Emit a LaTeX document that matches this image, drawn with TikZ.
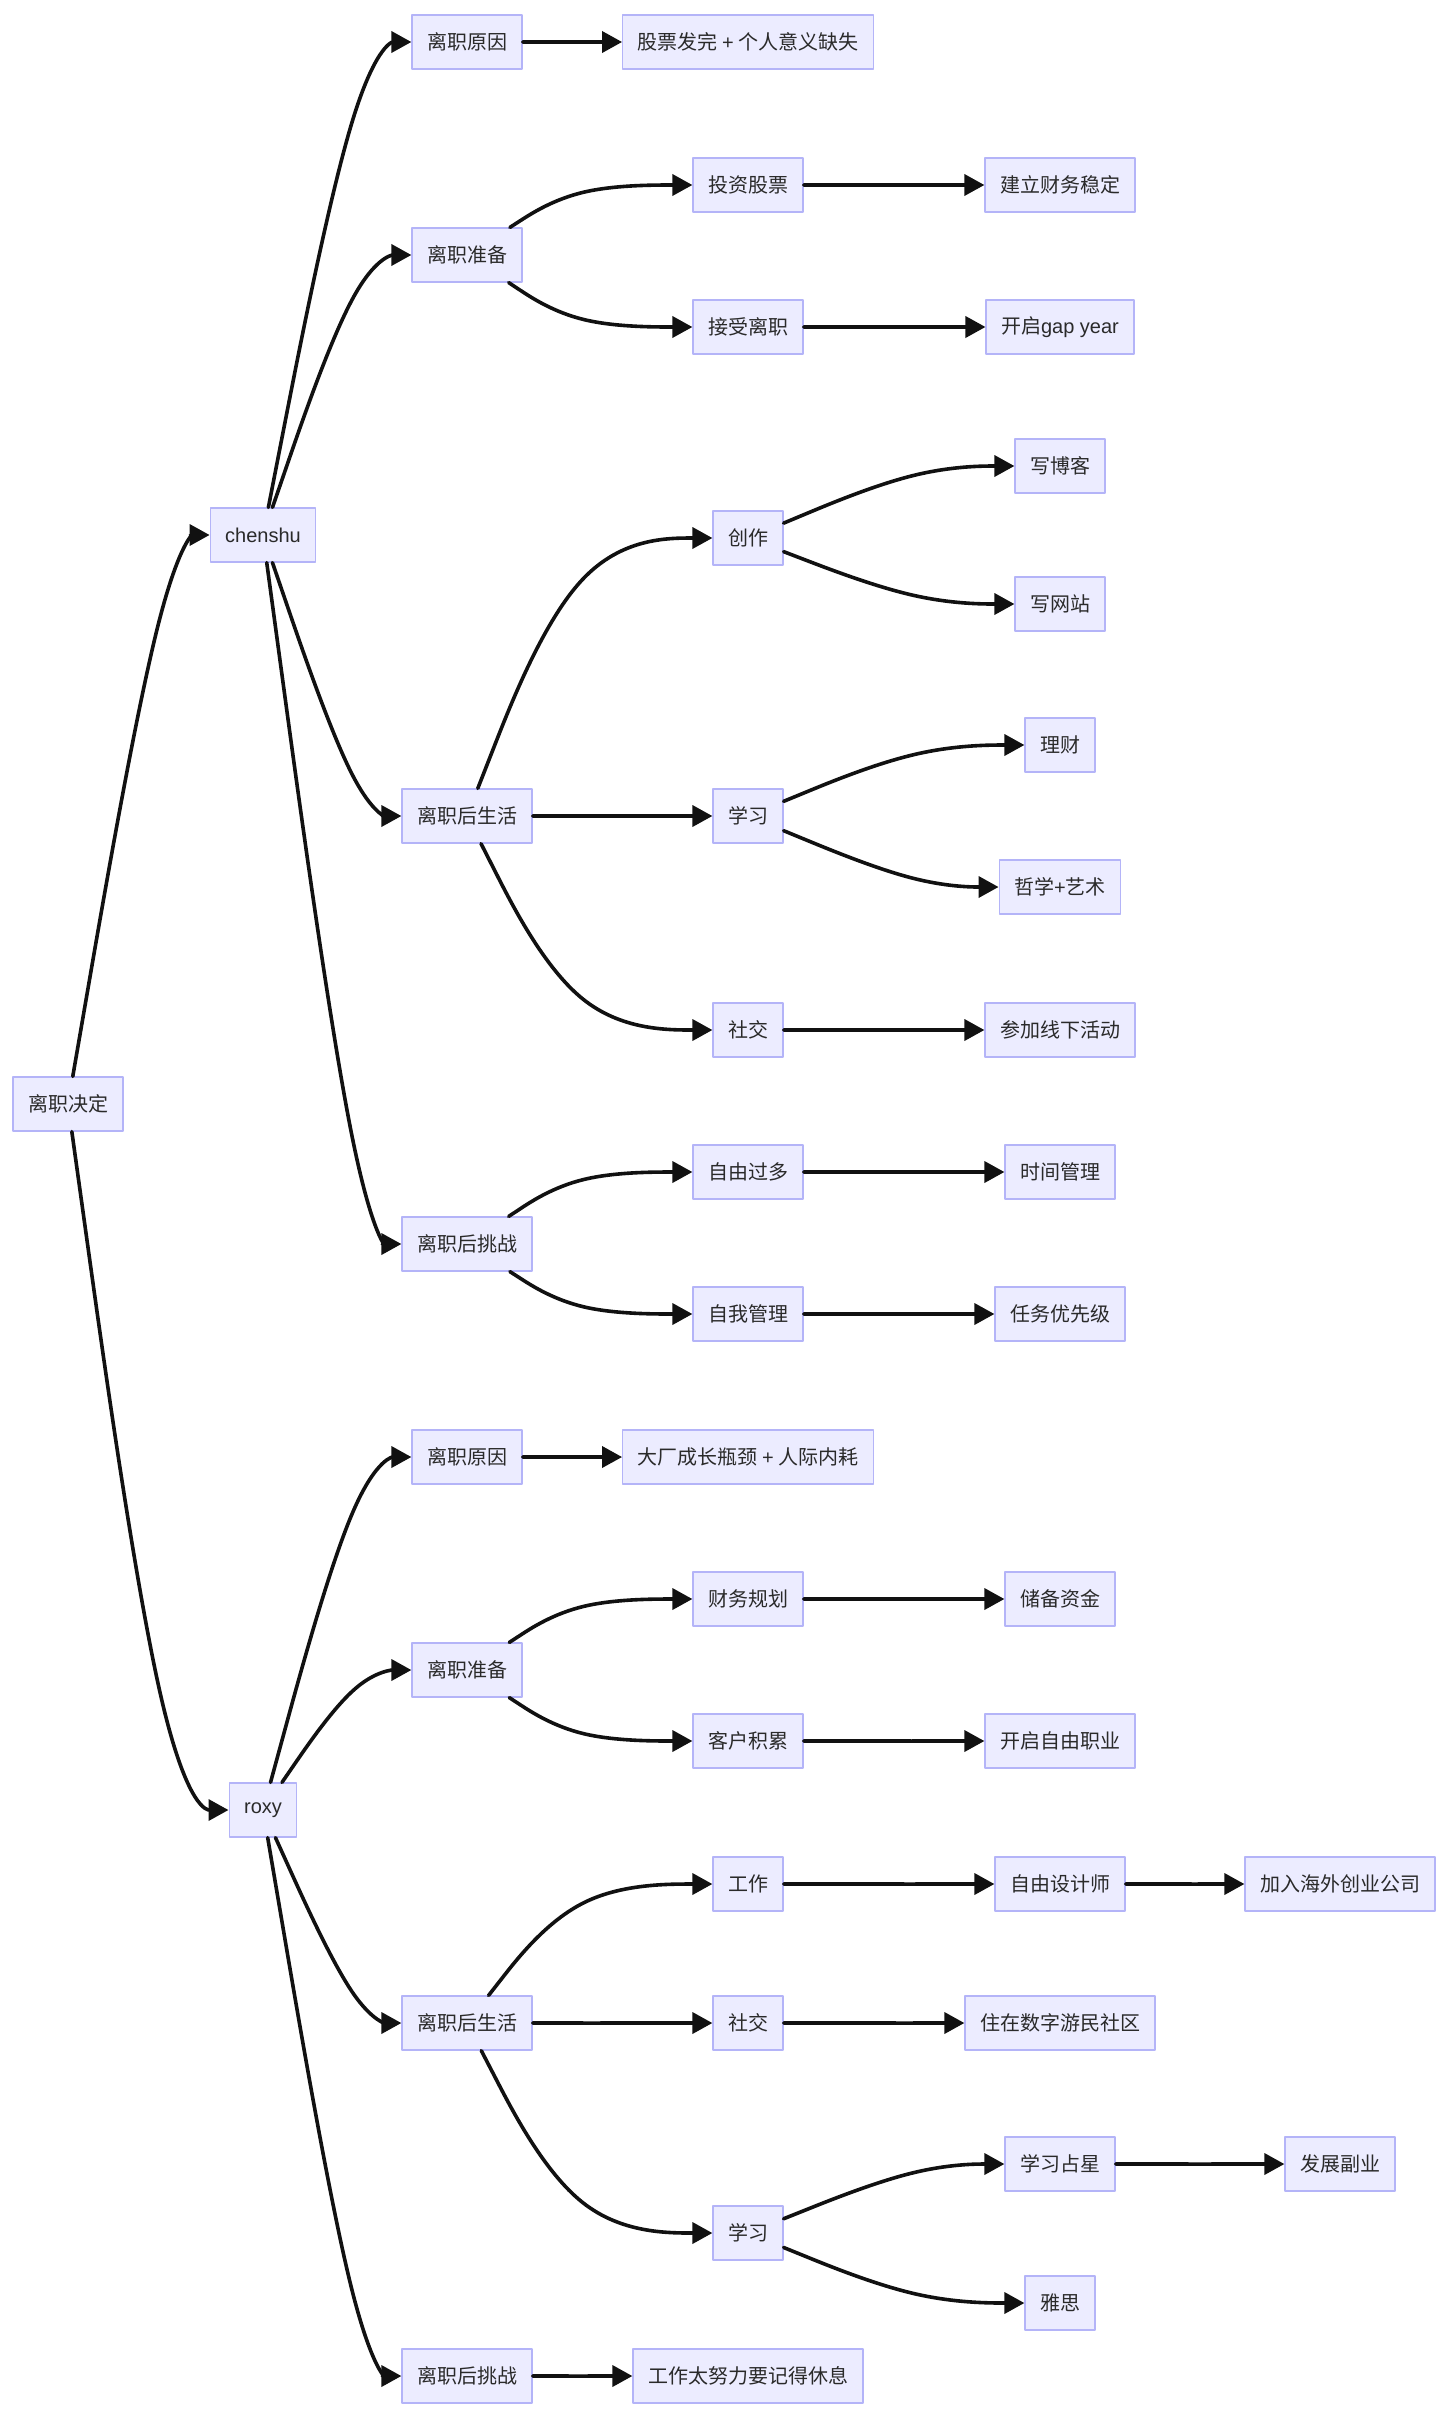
\documentclass[tikz,border=0pt]{standalone}
\usepackage{fontspec}
\setmainfont{Noto Sans CJK SC}
\newfontfamily\latin{Liberation Sans}
\usetikzlibrary{arrows.meta,calc}

\definecolor{boxfill}{HTML}{ECECFF}
\definecolor{boxline}{HTML}{B4B4F8}
\definecolor{inkgray}{HTML}{2A2A2A}
\definecolor{linkgray}{HTML}{111111}

\tikzset{
  box/.style={draw=boxline, fill=boxfill, line width=0.6pt, text=inkgray,
    minimum height=27pt, inner xsep=7.5pt, inner ysep=0pt},
  link/.style={draw=linkgray, line width=1.8pt, -{Triangle[length=10pt,width=10.5pt]}}
}

% basis curve from #1 to #2, bending at the column #3
\newcommand{\flow}[3]{%
  \path (#2.west -| #3) coordinate (q1) (#2.west) coordinate (q2);
  \path (#1) -- (q1) coordinate[pos=0] (q0);
  \draw[link] (q0) -- ($(q0)!0.16667!(q1)$)
    .. controls ($(q0)!0.33333!(q1)$) and ($(q0)!0.66667!(q1)$)
    .. ($0.16667*(q0)+0.66667*(q1)+0.16667*(q2)$)
    .. controls ($(q1)!0.33333!(q2)$) and ($(q1)!0.66667!(q2)$) .. (q2);
}

\begin{document}
\begin{tikzpicture}[x=0.5pt, y=-0.5pt, line join=round, line cap=round]
				\useasboundingbox (0,0) rectangle (1456,2426);
				
				\coordinate (m1) at (166.5,0);
				\coordinate (m2) at (359.3,0);
				\coordinate (m3) at (575.8,0);
				\coordinate (m4) at (920.3,0);
				\coordinate (m5) at (1199.8,0);
				
				\node[box] (D) at (68,1104) {离职决定};
				\node[box] (C) at (263,535) {\latin chenshu};
				\node[box] (R) at (263,1810) {\latin roxy};
				
				% chenshu
				\node[box] (C1) at (467,42) {离职原因};
				\node[box] (C2) at (467,255) {离职准备};
				\node[box] (C3) at (467,816) {离职后生活};
				\node[box] (C4) at (467,1244) {离职后挑战};
				
				\node[box] (C11) at (748,42) {股票发完 {\latin +} 个人意义缺失};
				\node[box] (C21) at (748,185) {投资股票};
				\node[box] (C22) at (748,327) {接受离职};
				\node[box] (C31) at (748,538) {创作};
				\node[box] (C32) at (748,816) {学习};
				\node[box] (C33) at (748,1030) {社交};
				\node[box] (C41) at (748,1172) {自由过多};
				\node[box] (C42) at (748,1314) {自我管理};
				
				\node[box] (C211) at (1060,185) {建立财务稳定};
				\node[box] (C221) at (1060,327) {开启{\latin gap year}};
				\node[box] (C311) at (1060,466) {写博客};
				\node[box] (C312) at (1060,604) {写网站};
				\node[box] (C321) at (1060,745) {理财};
				\node[box] (C322) at (1060,887) {哲学{\latin +}艺术};
				\node[box] (C331) at (1060,1030) {参加线下活动};
				\node[box] (C411) at (1060,1172) {时间管理};
				\node[box] (C421) at (1060,1314) {任务优先级};
				
				% roxy
				\node[box] (R1) at (467,1457) {离职原因};
				\node[box] (R2) at (467,1670) {离职准备};
				\node[box] (R3) at (467,2023) {离职后生活};
				\node[box] (R4) at (467,2376) {离职后挑战};
				
				\node[box] (R11) at (748,1457) {大厂成长瓶颈 {\latin +} 人际内耗};
				\node[box] (R21) at (748,1599) {财务规划};
				\node[box] (R22) at (748,1741) {客户积累};
				\node[box] (R31) at (748,1884) {工作};
				\node[box] (R32) at (748,2023) {社交};
				\node[box] (R33) at (748,2233) {学习};
				\node[box] (R41) at (748,2376) {工作太努力要记得休息};
				
				\node[box] (R211) at (1060,1599) {储备资金};
				\node[box] (R221) at (1060,1741) {开启自由职业};
				\node[box] (R311) at (1060,1884) {自由设计师};
				\node[box] (R321) at (1060,2023) {住在数字游民社区};
				\node[box] (R331) at (1060,2164) {学习占星};
				\node[box] (R332) at (1060,2303) {雅思};
				
				\node[box] (R3111) at (1340,1884) {加入海外创业公司};
				\node[box] (R3311) at (1340,2164) {发展副业};
				
				\flow{D}{C}{m1}
				\flow{D}{R}{m1}
				
				\flow{C}{C1}{m2}
				\flow{C}{C2}{m2}
				\flow{C}{C3}{m2}
				\flow{C}{C4}{m2}
				\flow{R}{R1}{m2}
				\flow{R}{R2}{m2}
				\flow{R}{R3}{m2}
				\flow{R}{R4}{m2}
				
				\flow{C1}{C11}{m3}
				\flow{C2}{C21}{m3}
				\flow{C2}{C22}{m3}
				\flow{C3}{C31}{m3}
				\flow{C3}{C32}{m3}
				\flow{C3}{C33}{m3}
				\flow{C4}{C41}{m3}
				\flow{C4}{C42}{m3}
				\flow{R1}{R11}{m3}
				\flow{R2}{R21}{m3}
				\flow{R2}{R22}{m3}
				\flow{R3}{R31}{m3}
				\flow{R3}{R32}{m3}
				\flow{R3}{R33}{m3}
				\flow{R4}{R41}{m3}
				
				\flow{C21}{C211}{m4}
				\flow{C22}{C221}{m4}
				\flow{C31}{C311}{m4}
				\flow{C31}{C312}{m4}
				\flow{C32}{C321}{m4}
				\flow{C32}{C322}{m4}
				\flow{C33}{C331}{m4}
				\flow{C41}{C411}{m4}
				\flow{C42}{C421}{m4}
				\flow{R21}{R211}{m4}
				\flow{R22}{R221}{m4}
				\flow{R31}{R311}{m4}
				\flow{R32}{R321}{m4}
				\flow{R33}{R331}{m4}
				\flow{R33}{R332}{m4}
				
				\flow{R311}{R3111}{m5}
				\flow{R331}{R3311}{m5}
			\end{tikzpicture}
\end{document}
